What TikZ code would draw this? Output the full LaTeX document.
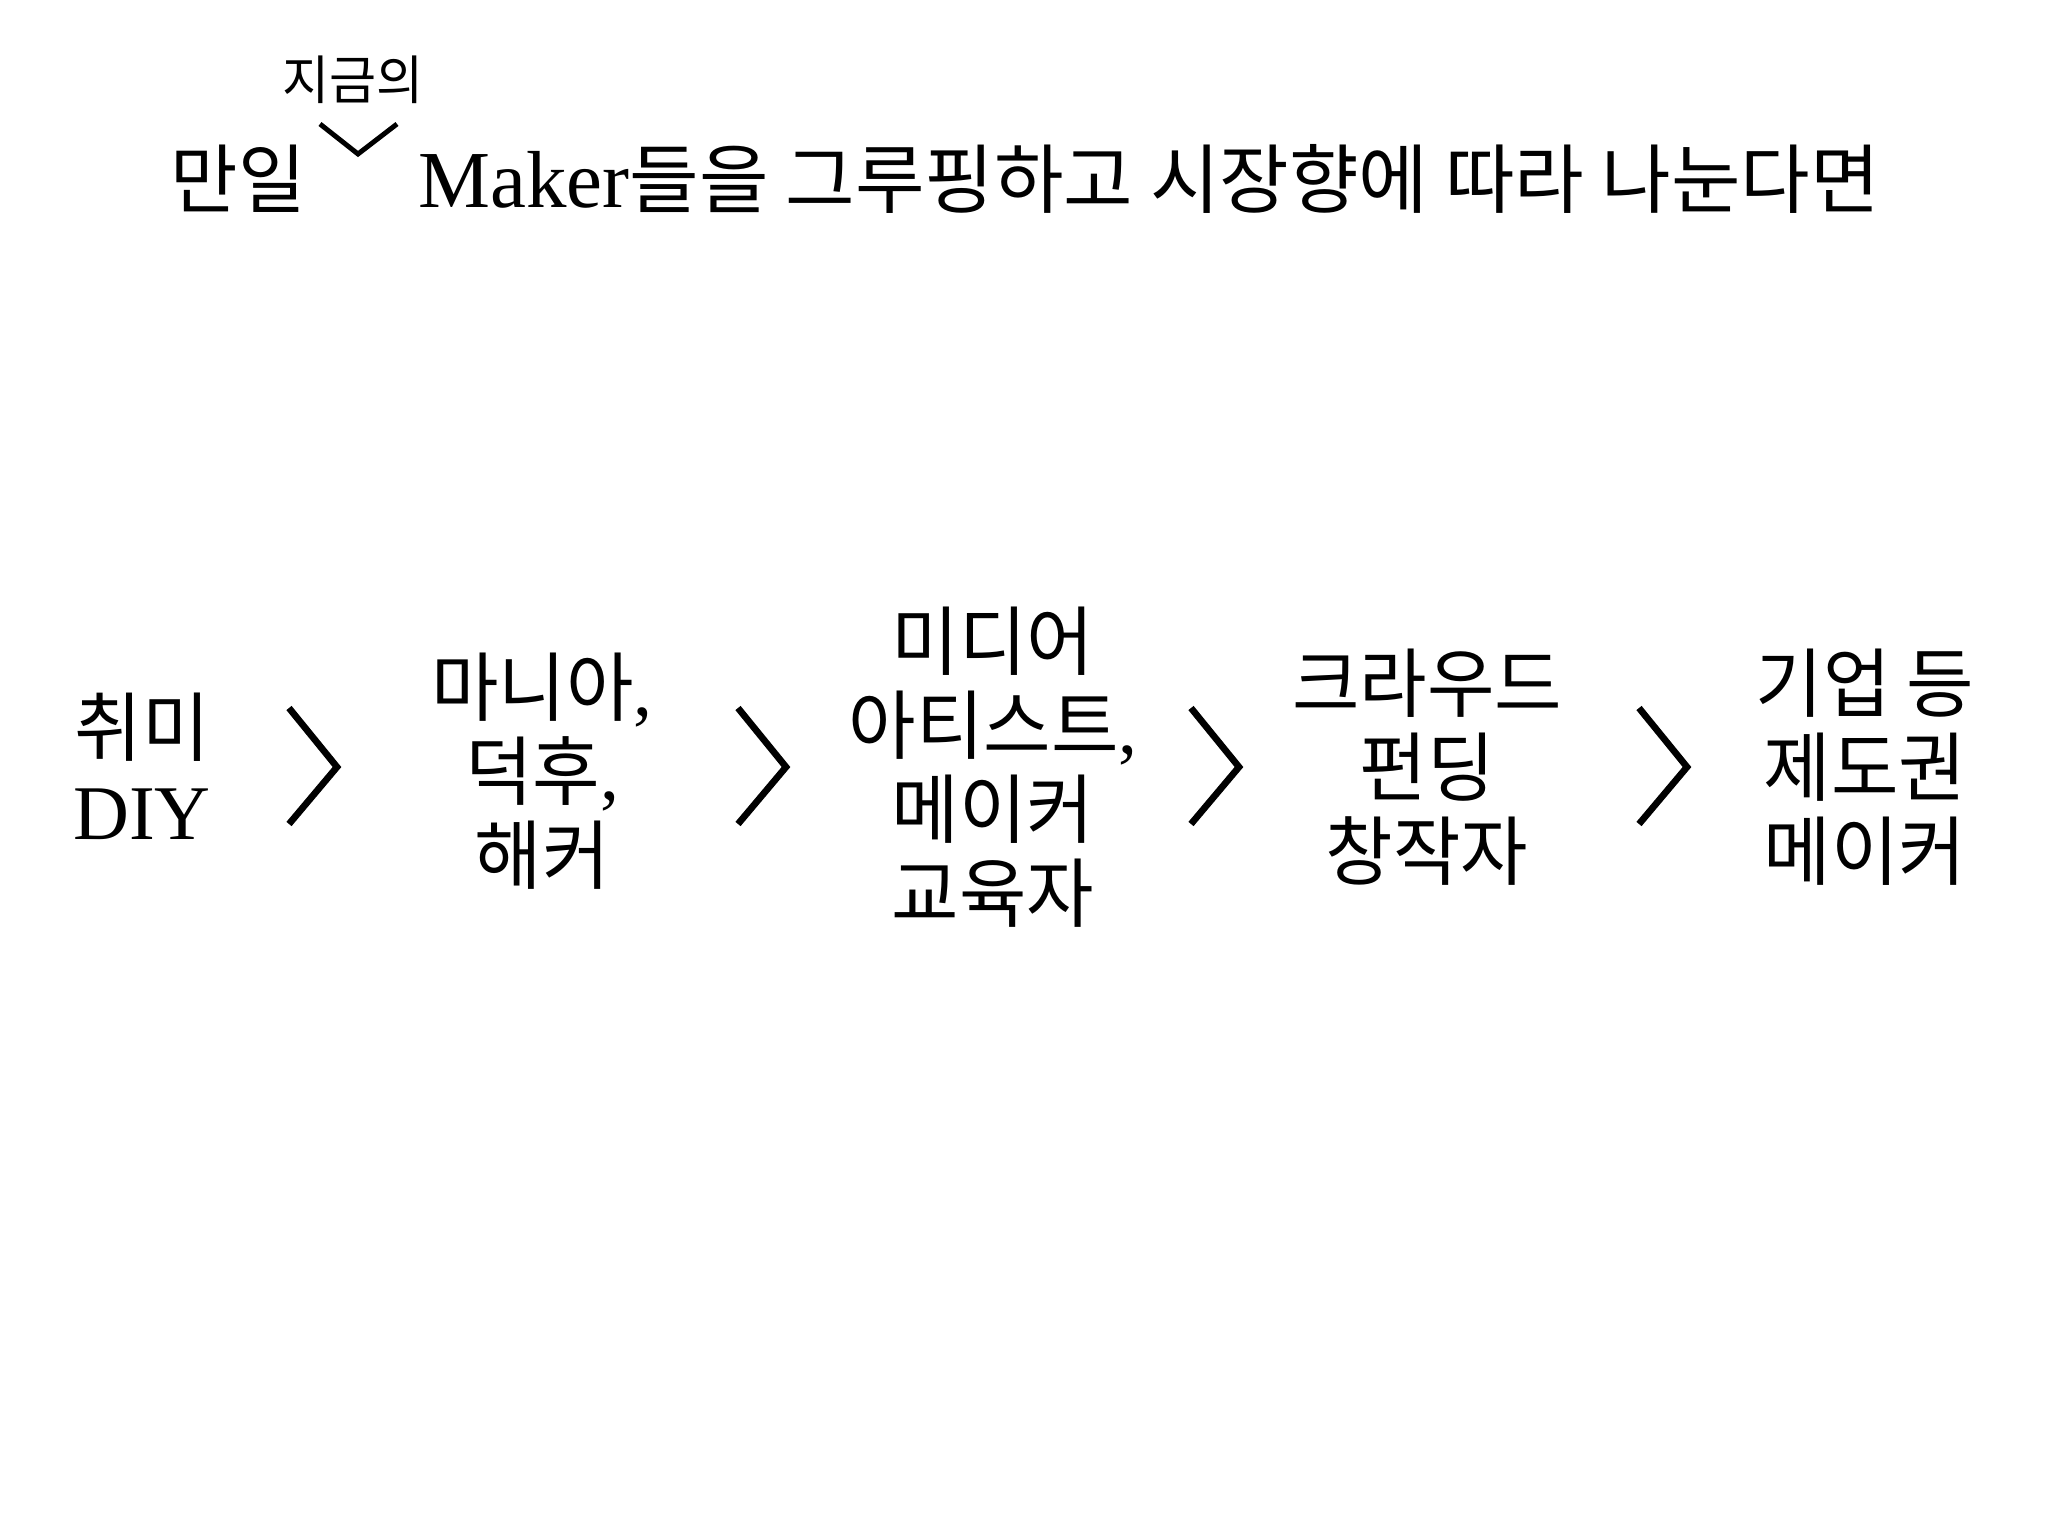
\documentclass[tikz,border=0pt]{standalone}
\usepackage{fontspec}
\setmainfont{Liberation Serif}
\newfontfamily\kr[FakeStretch=0.97]{Noto Sans CJK KR}
\newfontfamily\krwide{Noto Sans CJK KR}
\usepackage{tikz}
\newcommand\Chevron[2]{%
    \draw[line width=1.9pt] (#1,708) -- (#1+48,767) coordinate(#2) -- (#1,824);
}
\tikzset{
    big/.style={align=center,font=\kr\fontsize{21.5}{23.9}\selectfont},
    head/.style={font=\krwide\fontsize{21.5}{23.9}\selectfont},
    small/.style={font=\kr\fontsize{15}{17}\selectfont}
}

\begin{document}
\begin{tikzpicture}[x=0.01cm,y=-0.01cm]
    \useasboundingbox (0,0) rectangle (2048,1536);
    \node[big] (ifword) at (238,179) {만일};
    \node[head,anchor=west] (title) at (406,179) {{\rmfamily\fontsize{23}{24}\selectfont Maker}들을 그루핑하고 시장향에 따라 나눈다면};
    \node[small] (now) at (353,80) {지금의};
    \draw[line width=1.4pt] (320,124) -- (358,154) coordinate(caret) -- (397,124);
    \node[big] (hobby) at (142,766) {취미\\{\rmfamily\fontsize{22}{24}\selectfont DIY}};
    \node[big] (mania) at (542,771) {마니아{\rmfamily ,}\\덕후{\rmfamily ,}\\해커};
    \node[big] (media) at (993,767) {미디어\\아티스트{\rmfamily ,}\\메이커\\교육자};
    \node[big] (crowd) at (1427,767) {크라우드\\펀딩\\창작자};
    \node[big] (firm) at (1865,767) {기업 등\\제도권\\메이커};
    \Chevron{289}{c1}
    \Chevron{738}{c2}
    \Chevron{1191}{c3}
    \Chevron{1639}{c4}
\end{tikzpicture}
\end{document}
